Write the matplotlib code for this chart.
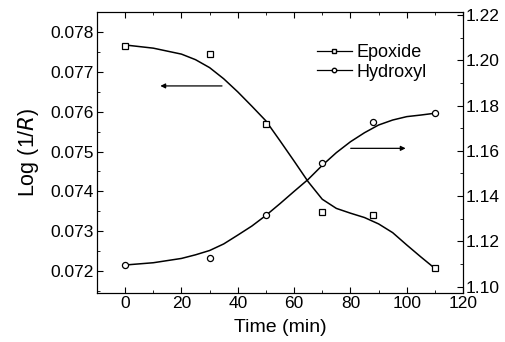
import numpy as np
import matplotlib
matplotlib.use('Agg')
import matplotlib.pyplot as plt
from matplotlib.ticker import MultipleLocator

plt.rcParams['font.family'] = ['Liberation Sans', 'DejaVu Sans']

# measured points
t_pts = [0, 30, 50, 70, 88, 110]
epoxide = [0.07766, 0.07745, 0.07569, 0.07347, 0.07341, 0.07206]
hydroxyl = [1.1096, 1.1128, 1.1317, 1.1545, 1.1729, 1.1766]

# fitted curves
t_fit = [0, 10, 20, 25, 30, 35, 40, 45, 50, 55, 60, 65, 70, 75, 80, 85, 90, 95, 100, 105, 110]
epoxide_fit = [0.07768, 0.07760, 0.07745, 0.07731, 0.07711, 0.07683, 0.07650, 0.07614,
               0.07577, 0.07527, 0.07476, 0.07424, 0.07380, 0.07357, 0.07345, 0.07334,
               0.07318, 0.07296, 0.07265, 0.07235, 0.07206]
hydroxyl_fit = [1.1096, 1.1106, 1.1125, 1.1141, 1.1160, 1.1189, 1.1228, 1.1268, 1.1315,
                1.1367, 1.1421, 1.1474, 1.1536, 1.1592, 1.1640, 1.1680, 1.1714,
                1.1736, 1.1751, 1.1758, 1.1766]

fig = plt.figure(figsize=(5.05, 3.42), dpi=100)
ax = fig.add_axes([0.192, 0.143, 0.725, 0.822])
ax2 = ax.twinx()

lw = 1.1
ax.plot(t_fit, epoxide_fit, '-', color='black', linewidth=lw)
ax.plot(t_pts, epoxide, 's', mfc='white', mec='black', ms=4.4, mew=0.9)
ax2.plot(t_fit, hydroxyl_fit, '-', color='black', linewidth=lw)
ax2.plot(t_pts, hydroxyl, 'o', mfc='white', mec='black', ms=4.4, mew=0.9)

ax.set_xlim(-10, 120)
ax.set_ylim(0.07144, 0.07851)
ax2.set_ylim(1.0972, 1.2213)

ax.xaxis.set_major_locator(MultipleLocator(20))
ax.xaxis.set_minor_locator(MultipleLocator(10))
ax.yaxis.set_major_locator(MultipleLocator(0.001))
ax.yaxis.set_minor_locator(MultipleLocator(0.0005))
ax2.yaxis.set_major_locator(MultipleLocator(0.02))
ax2.yaxis.set_minor_locator(MultipleLocator(0.01))
ax.yaxis.set_major_formatter(plt.FormatStrFormatter('%.3f'))
ax2.yaxis.set_major_formatter(plt.FormatStrFormatter('%.2f'))

ax.tick_params(which='both', direction='in', top=True, labelsize=12.5)
ax.tick_params(which='major', length=4, pad=2)
ax.tick_params(which='minor', length=2)
ax2.tick_params(which='both', direction='in', labelsize=12.5)
ax2.tick_params(which='major', length=4, pad=2)
ax2.tick_params(which='minor', length=2)

ax.set_xlabel('Time (min)', fontsize=14, labelpad=6)
ax.set_ylabel(r'Log (1/$\it{R}$)', fontsize=15.5, labelpad=7)

# arrows pointing to the axes
ax.annotate('', xy=(12.5, 0.07665), xytext=(34.4, 0.07665),
            arrowprops=dict(arrowstyle='-|>', color='black', lw=0.9,
                            mutation_scale=7, shrinkA=0, shrinkB=0))
ax2.annotate('', xy=(99.6, 1.1611), xytext=(80.1, 1.1611),
             arrowprops=dict(arrowstyle='-|>', color='black', lw=0.9,
                             mutation_scale=7, shrinkA=0, shrinkB=0))

h1, = ax.plot([], [], '-s', color='black', mfc='white', mec='black', ms=3.2, lw=0.9)
h2, = ax.plot([], [], '-o', color='black', mfc='white', mec='black', ms=3.2, lw=0.9)
ax.legend([h1, h2], ['Epoxide', 'Hydroxyl'], loc='upper left',
          bbox_to_anchor=(0.582, 0.91), frameon=False, fontsize=13,
          handlelength=1.9, handletextpad=0.3, labelspacing=0.12,
          borderaxespad=0)

fig.savefig('out.png', dpi=100)
